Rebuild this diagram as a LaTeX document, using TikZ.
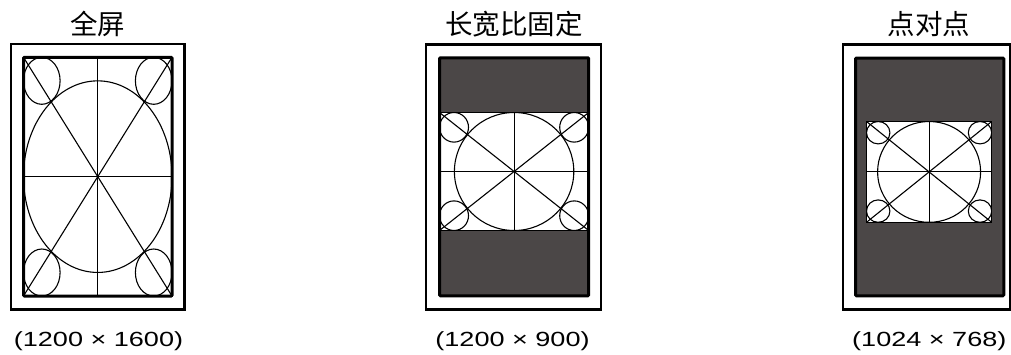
\documentclass[tikz,border=0pt]{standalone}
\usepackage{fontspec}
\setmainfont{Liberation Sans}
\newfontfamily\cjk{Noto Sans CJK SC}
\definecolor{darkband}{RGB}{75,71,71}
\tikzset{
  frame/.style={draw=black, line width=2.3pt},
  screen/.style={draw=black, line width=3pt, rounded corners=1pt},
  patline/.style={draw=black, line width=1.1pt},
  title/.style={font=\cjk\fontsize{27.5}{30}\selectfont, inner sep=0pt, anchor=center},
  reslabel/.style={inner sep=0pt, anchor=base},
}
\newcommand\reslab[1]{\scalebox{1.32}[1]{\fontsize{20.5}{22}\selectfont #1}}
% test pattern: x1 y1 x2 y2 Rx Ry rx ry
\newcommand\tpat[8]{%
  \path[fill=white] (#1,#2) rectangle (#3,#4);
  \begin{scope}
    \clip (#1,#2) rectangle (#3,#4);
    \draw[patline] ({(#1+#3)/2},#2) -- ({(#1+#3)/2},#4);
    \draw[patline] (#1,{(#2+#4)/2}) -- (#3,{(#2+#4)/2});
    \draw[patline] (#1,#2) -- (#3,#4);
    \draw[patline] (#1,#4) -- (#3,#2);
    \draw[patline] ({(#1+#3)/2},{(#2+#4)/2}) ellipse [x radius=#5, y radius=#6];
    \draw[patline] ({#1+#7},{#2+#8}) ellipse [x radius=#7, y radius=#8];
    \draw[patline] ({#3-#7},{#2+#8}) ellipse [x radius=#7, y radius=#8];
    \draw[patline] ({#1+#7},{#4-#8}) ellipse [x radius=#7, y radius=#8];
    \draw[patline] ({#3-#7},{#4-#8}) ellipse [x radius=#7, y radius=#8];
  \end{scope}
  \draw[patline] (#1,#2) rectangle (#3,#4);
}
\begin{document}
\begin{tikzpicture}[x=1pt,y=-1pt]
\useasboundingbox (0,0) rectangle (1011,354);
% ---------- panel 1 ----------
\node[title] (t1) at (97.5,24) {全屏};
\draw[frame] (11.2,44) rectangle (184.5,309.5);
\tpat{23.5}{57.3}{172}{296}{74.25}{95.8}{18.3}{23.5}
\draw[screen] (23.5,57.3) rectangle (172,296);
\node[reslabel] (l1) at (98.5,346.3) {\reslab{(1200 × 1600)}};
% ---------- panel 2 ----------
\node[title] (t2) at (514,24) {长宽比固定};
\draw[frame] (426.2,44.5) rectangle (601.2,309.5);
\fill[darkband] (439.5,57.8) rectangle (588.7,295.8);
\tpat{439.5}{112.5}{588.7}{230.5}{59.7}{59}{14.5}{14.8}
\draw[screen] (439.5,57.8) rectangle (588.7,295.8);
\node[reslabel] (l2) at (512.5,346.3) {\reslab{(1200 × 900)}};
% ---------- panel 3 ----------
\node[title] (t3) at (929,24) {点对点};
\draw[frame] (842.7,44.5) rectangle (1010,309.5);
\fill[darkband] (855.5,58) rectangle (1003.8,295.8);
\tpat{866.5}{121.5}{991.7}{222.3}{51.5}{50.4}{11.7}{11.2}
\draw[screen] (855.5,58) rectangle (1003.8,295.8);
\node[reslabel] (l3) at (929.3,346.3) {\reslab{(1024 × 768)}};
\end{tikzpicture}
\end{document}
